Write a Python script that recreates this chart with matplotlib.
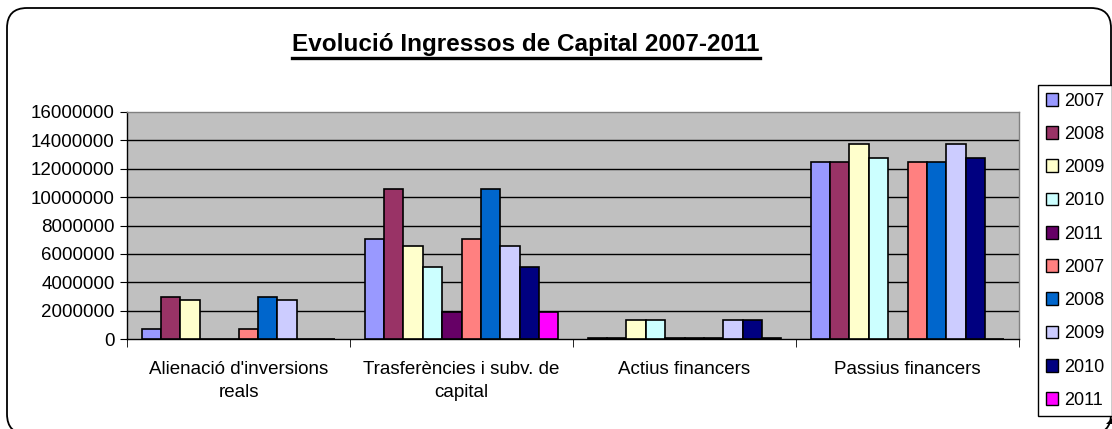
import matplotlib.pyplot as plt
import numpy as np
from matplotlib.patches import FancyBboxPatch, Patch, Polygon
from matplotlib.lines import Line2D

plt.rcParams['font.family'] = ['Liberation Sans', 'DejaVu Sans']

# dades
categories = ["Alienació d'inversions\nreals", "Trasferències i subv. de\ncapital",
              "Actius financers", "Passius financers"]
series_labels = ["2007", "2008", "2009", "2010", "2011",
                 "2007", "2008", "2009", "2010", "2011"]

v2007a = [730000, 7040000, 50000, 12500000]
v2008a = [2960000, 10540000, 50000, 12500000]
v2009a = [2720000, 6570000, 1360000, 13750000]
v2010a = [0, 5070000, 1360000, 12750000]
v2011a = [0, 1880000, 50000, 0]
v2007b = [730000, 7040000, 50000, 12500000]
v2008b = [2960000, 10540000, 50000, 12500000]
v2009b = [2720000, 6570000, 1360000, 13750000]
v2010b = [0, 5070000, 1360000, 12750000]
v2011b = [0, 1880000, 50000, 0]

all_values = [v2007a, v2008a, v2009a, v2010a, v2011a,
              v2007b, v2008b, v2009b, v2010b, v2011b]
colors = ["#9999FF", "#993366", "#FFFFCC", "#CCFFFF", "#660066",
          "#FF8080", "#0066CC", "#CCCCFF", "#000080", "#FF00FF"]

W, H = 1112, 429
fig = plt.figure(figsize=(W / 100, H / 100), dpi=100)

# fons amb la vora arrodonida
bg = fig.add_axes([0, 0, 1, 1], zorder=-5)
bg.set_xlim(0, W)
bg.set_ylim(H, 0)
bg.axis("off")
bg.add_patch(FancyBboxPatch((7, 8), 1104, 426, boxstyle="round,pad=0,rounding_size=20",
                            facecolor="white", edgecolor="black", lw=1.3))

ax = fig.add_axes([127 / W, 1 - 339 / H, (1019 - 127) / W, (339 - 112) / H])
ax.set_facecolor("#C0C0C0")

n = len(all_values)
w = 1 / 11.5
x = np.arange(len(categories))
for i, vals in enumerate(all_values):
    ax.bar(x + (i - (n - 1) / 2) * w, vals, width=w, color=colors[i],
           edgecolor="black", linewidth=1.2, zorder=3)

ax.set_ylim(0, 16000000)
ax.set_xlim(-0.5, len(categories) - 0.5)
yt = np.arange(0, 16000001, 2000000)
ax.set_yticks(yt)
ax.set_yticklabels([str(v) for v in yt], fontsize=13.5)
for v in yt[1:-1]:
    ax.axhline(v, color="black", lw=1, zorder=1)

ax.set_xticks(x)
ax.set_xticklabels(categories, fontsize=13.5, linespacing=1.45)
ax.set_xticks(np.arange(-0.5, len(categories)), minor=True)
ax.tick_params(axis="x", which="major", length=0, pad=16)
ax.tick_params(axis="x", which="minor", length=6, direction="out", color="black")
ax.tick_params(axis="y", length=5, direction="out", color="black", pad=4)

ax.spines["left"].set_color("black")
ax.spines["bottom"].set_color("black")
ax.spines["top"].set_color("#808080")
ax.spines["right"].set_color("#808080")
for s in ax.spines.values():
    s.set_linewidth(1)

t = fig.text(526 / W, 1 - 44 / H, "Evolució Ingressos de Capital 2007-2011",
             fontsize=17.5, fontweight="bold", ha="center", va="center")
fig.canvas.draw()
bb = t.get_window_extent()
bg.add_line(Line2D([bb.x0, bb.x1], [58, 58], color="black", lw=2.4))

handles = [Patch(facecolor=c, edgecolor="black", lw=1) for c in colors]
leg = fig.legend(handles, series_labels, loc="upper left",
                 bbox_to_anchor=(1038 / W, 1 - 85 / H), fontsize=13,
                 frameon=True, fancybox=False, edgecolor="black", framealpha=1,
                 handlelength=0.7, handleheight=0.7, handletextpad=0.3,
                 labelspacing=0.9, borderpad=0.42, borderaxespad=0)
leg.get_frame().set_linewidth(1)

# petita ombra a la cantonada de la llegenda
bg.add_patch(Polygon([[1106, 424], [1112, 424], [1112, 418]], closed=True,
                     facecolor="black", edgecolor="none"))

fig.savefig("out.png", dpi=100)
